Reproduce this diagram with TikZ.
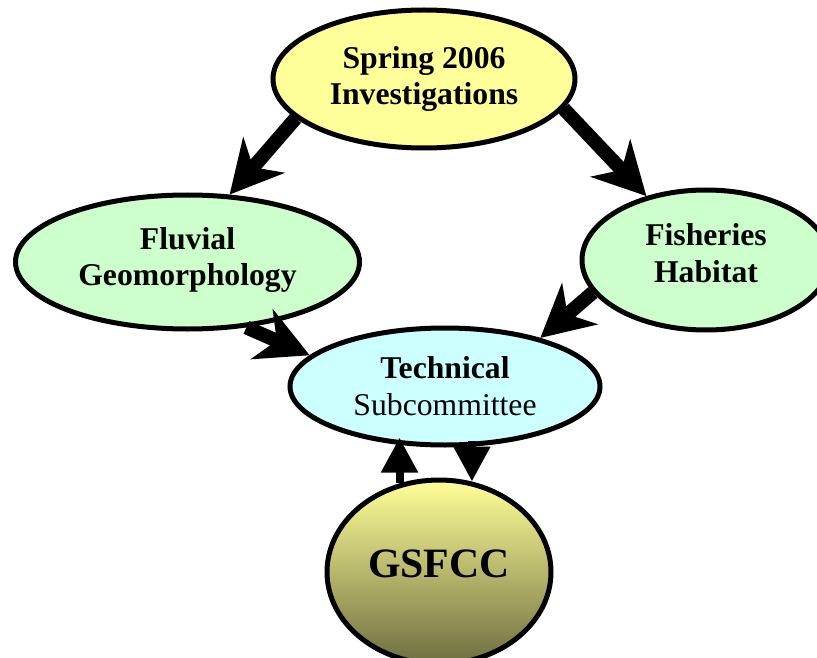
\documentclass[tikz,border=0pt]{standalone}
\usepackage{fontspec}
\setmainfont{Liberation Serif}
\usetikzlibrary{shapes.geometric,arrows.meta}

\definecolor{paleyellow}{HTML}{FFFF99}
\definecolor{palegreen}{HTML}{CCFFCC}
\definecolor{palecyan}{HTML}{CCFFFF}
\definecolor{olive}{HTML}{6E6E40}

\tikzset{
  bubble/.style={ellipse, draw=black, line width=5pt, inner sep=0pt,
    align=center, font=\fontsize{31.7}{36.7}\selectfont\bfseries},
  caption/.style={align=center, font=\fontsize{31.7}{36.7}\selectfont\bfseries},
  bigarrow/.style={line width=14pt, -{Stealth[length=52pt,width=54pt,inset=16pt]}},
  smallarrow/.style={line width=8pt, -{Triangle[length=35pt,width=35pt]}}
}

\begin{document}
\begin{tikzpicture}[x=1pt,y=-1pt]
  \useasboundingbox (0,0) rectangle (817,658);
  \clip (0,0) rectangle (817,658);

  % the five bodies
  \node[bubble, fill=paleyellow, minimum width=302pt, minimum height=138pt]
    (spring) at (424,79) {Spring 2006\\Investigations};
  \node[bubble, fill=palegreen, minimum width=344pt, minimum height=134pt,
    label={[caption, yshift=2pt]center:Fluvial\\Geomorphology}]
    (fluvial) at (187.5,262) {};
  \node[bubble, fill=palegreen, minimum width=248pt, minimum height=140pt,
    label={[caption, yshift=7pt]center:Fisheries\\Habitat}]
    (fish) at (706,260) {};
  \node[bubble, fill=palecyan, minimum width=310pt, minimum height=117pt]
    (tech) at (445,386.5) {Technical\\\mdseries Subcommittee};
  \node[bubble, top color=paleyellow, bottom color=olive,
    minimum width=224pt, minimum height=184pt,
    label={[font=\fontsize{41.8}{48}\selectfont\bfseries, yshift=8pt]center:GSFCC}]
    (gsfcc) at (439,572) {};

  % flows between them
  \draw[bigarrow] (spring.197) -- (fluvial.58.5);
  \draw[bigarrow] (spring.348) -- (fish.133);
  \draw[bigarrow] (fluvial.312) -- (tech.167);
  \draw[bigarrow] (fish.196) -- (tech.27.6);
  \draw[smallarrow, shorten >=-10pt] (gsfcc.114.3) -- (gsfcc.114.3 |- tech.south);
  \draw[smallarrow, shorten <=-7pt] (gsfcc.70.06 |- tech.south) -- (gsfcc.70.06);
\end{tikzpicture}
\end{document}
